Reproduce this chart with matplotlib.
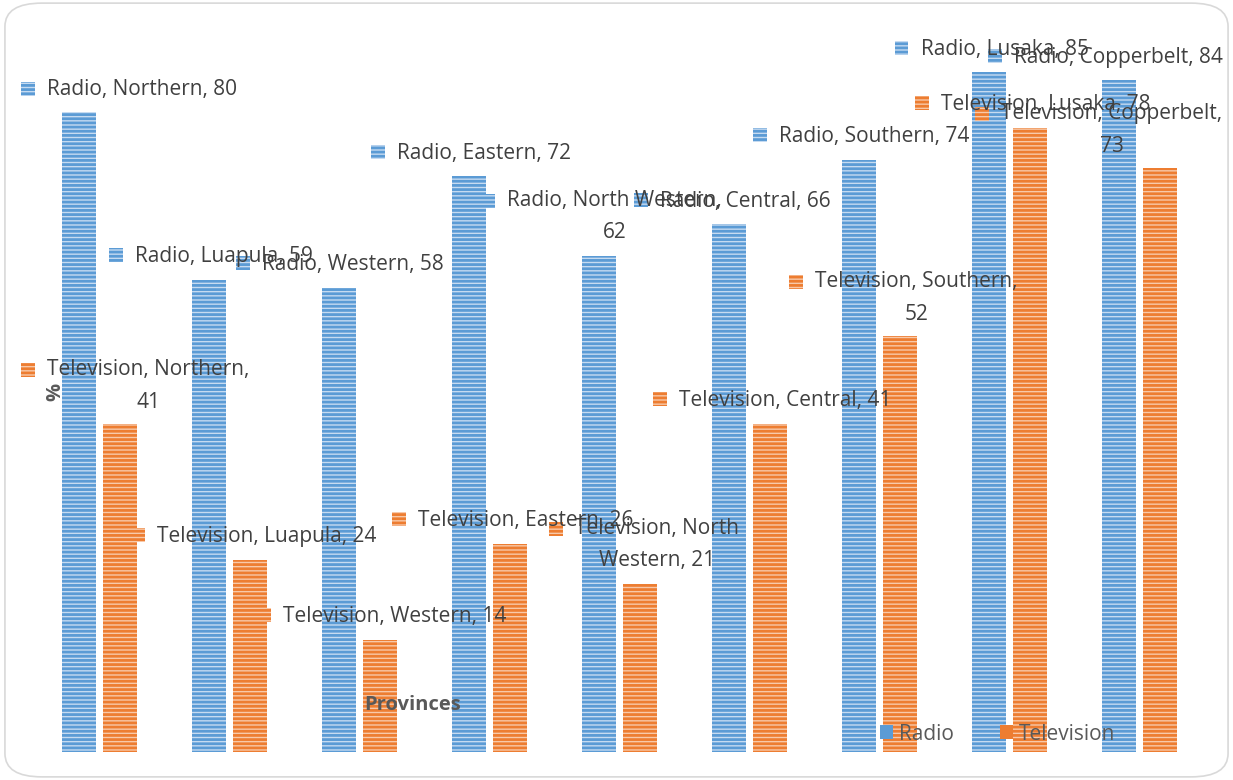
import matplotlib
matplotlib.use('Agg')
import matplotlib.pyplot as plt
from matplotlib.patches import FancyBboxPatch, Patch
import numpy as np

# datos
provincias = ['Northern', 'Luapula', 'Western', 'Eastern', 'North Western',
              'Central', 'Southern', 'Lusaka', 'Copperbelt']
radio = [80, 59, 58, 72, 62, 66, 74, 85, 84]
television = [41, 24, 14, 26, 21, 41, 52, 78, 73]

# texto de etiquetas (Excel corta algunas en dos lineas)
etiquetas_radio = ['Radio, Northern, 80', 'Radio, Luapula, 59', 'Radio, Western, 58',
                   'Radio, Eastern, 72', 'Radio, North Western,\n62', 'Radio, Central, 66',
                   'Radio, Southern, 74', 'Radio, Lusaka, 85', 'Radio, Copperbelt, 84']
etiquetas_tv = ['Television, Northern,\n41', 'Television, Luapula, 24', 'Television, Western, 14',
                'Television, Eastern, 26', 'Television, North\nWestern, 21', 'Television, Central, 41',
                'Television, Southern,\n52', 'Television, Lusaka, 78', 'Television, Copperbelt,\n73']

# posicion del marcador de cada etiqueta (x en categorias, y en %)
pos_radio = [(-0.55, 82.9), (0.127, 62.1), (1.104, 61.1), (2.142, 75.0), (2.988, 68.9),
             (4.165, 69.0), (5.08, 77.1), (6.17, 88.0), (6.888, 87.0)]
pos_tv = [(-0.55, 47.75), (0.296, 27.1), (1.265, 17.1), (2.304, 29.1), (3.512, 27.9),
          (4.312, 44.1), (5.358, 58.75), (6.327, 81.1), (6.788, 79.75)]

AZUL = '#5b9bd5'
NARANJA = '#ed7d31'
GRIS = '#595959'

plt.rcParams['font.family'] = ['Open Sans', 'DejaVu Sans']
plt.rcParams['hatch.linewidth'] = 2.0

fig = plt.figure(figsize=(12.33, 7.8), dpi=100)
ax = fig.add_axes([34.5 / 1233, 1 - 752 / 780, 1170 / 1233, 720 / 780])

x = np.arange(len(provincias))
ancho = 0.26
ax.bar(x - 0.158, radio, ancho, color='#c6dbf1', edgecolor=AZUL, linewidth=0, hatch='----')
ax.bar(x + 0.158, television, ancho, color='#f8c9a9', edgecolor=NARANJA, linewidth=0, hatch='----')
ax.set_xlim(-0.5, len(provincias) - 0.5)
ax.set_ylim(0, 90)
ax.axis('off')

def etiqueta(pos, texto, color, fondo):
    px, py = pos
    ax.scatter([px], [py], marker='s', s=95, color=fondo, edgecolor=color,
               linewidths=0, hatch='----', zorder=5, clip_on=False)
    lineas = texto.count('\n') + 1
    ax.annotate(texto, (px, py), xytext=(19, 11 if lineas > 1 else -1),
                textcoords='offset pixels', ha='left',
                va='top' if lineas > 1 else 'center', multialignment='center',
                fontsize=15, color='#404040', linespacing=1.72, zorder=6,
                annotation_clip=False)

for p, t in zip(pos_radio, etiquetas_radio):
    etiqueta(p, t, AZUL, '#c6dbf1')
for p, t in zip(pos_tv, etiquetas_tv):
    etiqueta(p, t, NARANJA, '#f8c9a9')

fig.text(55 / 1233, 1 - 392 / 780, '%', rotation=90, ha='center', va='center',
         fontsize=14.5, fontweight='bold', color=GRIS)
fig.text(413 / 1233, 1 - 705 / 780, 'Provinces', ha='center', va='center',
         fontsize=14.5, fontweight='bold', color=GRIS)

handles = [Patch(facecolor=AZUL, label='Radio'), Patch(facecolor=NARANJA, label='Television')]
fig.legend(handles=handles, loc='center left', bbox_to_anchor=(880 / 1233, 1 - 734 / 780),
           ncol=2, frameon=False, fontsize=15, handlelength=0.62, handleheight=0.62,
           handletextpad=0.3, columnspacing=2.2, borderpad=0, borderaxespad=0,
           labelcolor=GRIS)

marco = FancyBboxPatch((0.004, 0.004), 0.992, 0.992, boxstyle='round,pad=0,rounding_size=0.03',
                       transform=fig.transFigure, facecolor='none', edgecolor='#d9d9d9',
                       linewidth=1.2)
fig.patches.append(marco)

fig.savefig('out.png', dpi=100)
